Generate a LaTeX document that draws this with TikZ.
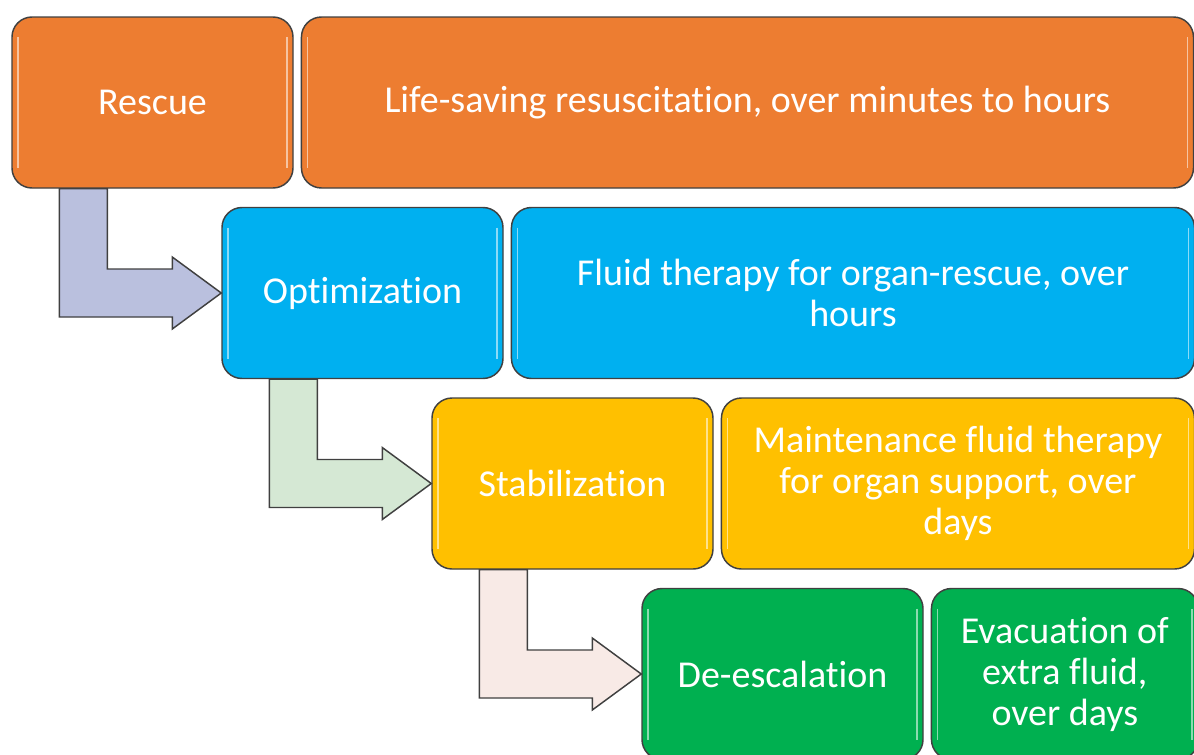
\documentclass[tikz,border=0pt]{standalone}
\usepackage{fontspec}
\setmainfont{Carlito}[Ligatures=NoCommon]
\usetikzlibrary{positioning}
\usetikzlibrary{calc}

\definecolor{boxedge}{HTML}{404040}
\definecolor{rescuecol}{HTML}{ED7D31}
\definecolor{optimcol}{HTML}{00B0F0}
\definecolor{stabcol}{HTML}{FFC000}
\definecolor{desccol}{HTML}{00B050}
\definecolor{arrowblue}{HTML}{BAC0DE}
\definecolor{arrowgreen}{HTML}{D5E8D4}
\definecolor{arrowpink}{HTML}{F8EAE6}

\begin{document}
\begin{tikzpicture}[x=0.75pt,y=-0.75pt,node distance=5.25pt,
                    stage/.style={rectangle,rounded corners=15pt,draw=boxedge,line width=1.1pt,
                      text=white,align=center,font=\fontsize{28.5}{30.75}\selectfont,
                      minimum width=210.75pt,minimum height=128.25pt,
                      path picture={
                        \draw[white,opacity=0.55,line width=1.2pt]
                          ($(path picture bounding box.north west)+(6,20)$) -- ($(path picture bounding box.south west)+(6,-20)$)
                          ($(path picture bounding box.north east)+(-6,20)$) -- ($(path picture bounding box.south east)+(-6,-20)$);
                      }},
                    steparrow/.style={draw=boxedge,line width=1.1pt,line join=miter}]
\clip (0,0) rectangle (1194,754);

% phases down the left, descriptions to their right
\node[stage,fill=rescuecol] (rescue) at (152.5,102.5) {Rescue};
\node[stage,fill=rescuecol,minimum width=669pt] (rescuetxt) [right=of rescue] {Life-saving resuscitation, over minutes to hours};

\node[stage,fill=optimcol] (optim) at ($(rescue)+(210,190.5)$) {Optimization};
\node[stage,fill=optimcol,minimum width=512.25pt] (optimtxt) [right=of optim] {Fluid therapy for organ-rescue, over\\hours};

\node[stage,fill=stabcol] (stab) at ($(optim)+(210,190.5)$) {Stabilization};
\node[stage,fill=stabcol,minimum width=354.75pt] (stabtxt) [right=of stab] {Maintenance fluid therapy\\for organ support, over\\days};

\node[stage,fill=desccol] (desc) at ($(stab)+(210,190.5)$) {De-escalation};
\node[stage,fill=desccol,minimum width=200pt] (desctxt) [right=of desc] {Evacuation of\\extra fluid,\\over days};

% bent arrows from one phase to the next
\foreach \src/\dst/\clr in {rescue/optim/arrowblue, optim/stab/arrowgreen, stab/desc/arrowpink}
{
  \coordinate (s) at ($(\src.south west)+(48,0)$);
  \coordinate (t) at (\dst.west);
  \coordinate (c) at (s |- t);
  \draw[steparrow,fill=\clr] (s) -- ++(48,0) -- ($(c)+(48,-24)$) -- ($(t)+(-49,-24)$) -- ++(0,-12)
      -- (t) -- ($(t)+(-49,36)$) -- ++(0,-12) -- ($(c)+(0,24)$) -- cycle;
}

\end{tikzpicture}
\end{document}
